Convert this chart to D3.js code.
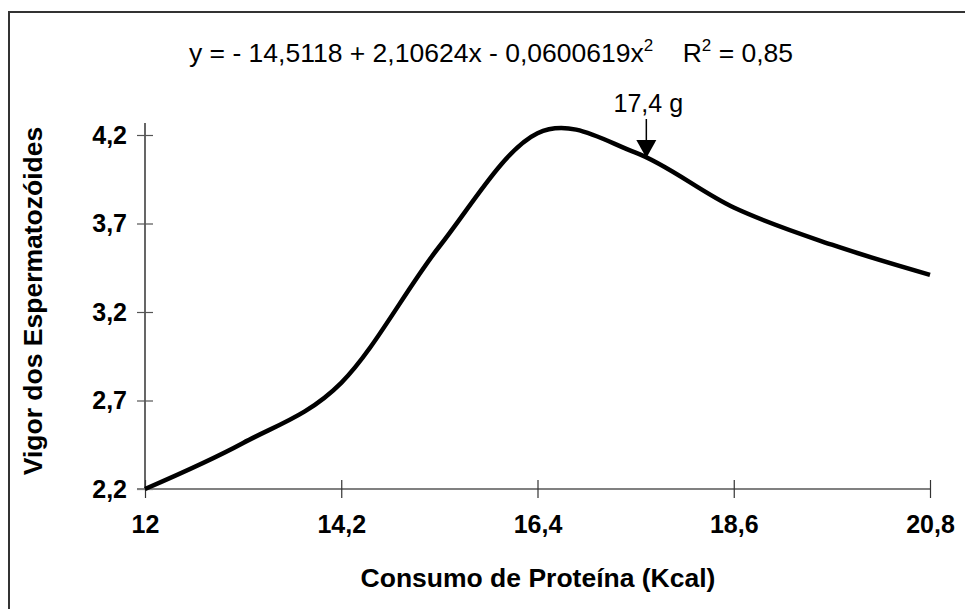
<!DOCTYPE html>
<html>
<head>
<meta charset="utf-8">
<script src="https://cdn.jsdelivr.net/npm/d3@7"></script>
<style>
  html, body { margin: 0; padding: 0; background: #fff; }
  svg { display: block; font-family: "Liberation Sans", Arial, sans-serif; }
</style>
</head>
<body>
<svg id="chart" width="965" height="609"></svg>
<script>
// Sperm vigour as a function of protein intake
const proteinKcal = [12, 13.1, 14.2, 15.3, 16.4, 17.5, 18.6, 19.7, 20.8];
const vigor       = [2.20, 2.46, 2.80, 3.57, 4.21, 4.10, 3.79, 3.58, 3.41];
const xTicks = [12, 14.2, 16.4, 18.6, 20.8];
const yTicks = [2.2, 2.7, 3.2, 3.7, 4.2];
const arrowX = 17.62;            // position of the "17,4 g" marker on the axis
const arrowLabel = "17,4 g";

const svg = d3.select("#chart");
const W = 965, H = 609;
const m = { left: 145, right: 35, top: 135, bottom: 120 };
const FONT = "Liberation Sans, Arial, sans-serif";

const x = d3.scaleLinear().domain([12, 20.8]).range([m.left, W - m.right]);
const y = d3.scaleLinear().domain([2.2, 4.2]).range([H - m.bottom, m.top]);

const fmt = d => String(d).replace(".", ",");

// outer frame (top and left edges)
svg.append("path")
  .attr("d", `M9,${H} L9,12 L${W},12`)
  .attr("fill", "none").attr("stroke", "#333").attr("stroke-width", 2);

// y axis
const yAxis = svg.append("g").attr("transform", `translate(${m.left},0)`)
  .call(d3.axisLeft(y).tickValues(yTicks).tickFormat(fmt).tickSize(0).tickPadding(18));
yAxis.select(".domain").attr("stroke", "#000").attr("stroke-width", 1.2)
  .attr("d", `M0,${y(2.2)}V${y(4.2) - 12}`);
yAxis.selectAll(".tick line").remove();
yAxis.selectAll(".tick").append("line")
  .attr("x1", -8).attr("x2", 8).attr("stroke", "#555").attr("stroke-width", 1.2);
yAxis.selectAll(".tick text").attr("font-size", 25).attr("font-weight", "bold")
  .attr("fill", "#000").attr("font-family", FONT);

// x axis
const xAxis = svg.append("g").attr("transform", `translate(0,${y(2.2)})`)
  .call(d3.axisBottom(x).tickValues(xTicks).tickFormat(fmt).tickSize(0).tickPadding(26));
xAxis.select(".domain").attr("stroke", "#808080").attr("stroke-width", 1.8)
  .attr("d", `M${m.left - 8},0H${W - m.right}`);
xAxis.selectAll(".tick line").remove();
xAxis.selectAll(".tick").append("line")
  .attr("y1", -9).attr("y2", 9).attr("stroke", "#333").attr("stroke-width", 1.2);
xAxis.selectAll(".tick text").attr("font-size", 25).attr("font-weight", "bold")
  .attr("fill", "#000").attr("font-family", FONT);

// smoothed response curve
const line = d3.line()
  .x((d, i) => x(proteinKcal[i]))
  .y(d => y(d))
  .curve(d3.curveCardinal.tension(0));
svg.append("path").datum(vigor)
  .attr("d", line)
  .attr("fill", "none").attr("stroke", "#000").attr("stroke-width", 4.5)
  .attr("stroke-linejoin", "round");

// marker arrow
const ax = x(arrowX);
svg.append("line").attr("x1", ax).attr("x2", ax).attr("y1", 119).attr("y2", 142)
  .attr("stroke", "#000").attr("stroke-width", 1.5);
svg.append("path")
  .attr("d", `M${ax - 10},140 L${ax + 10},140 L${ax},158 Z`).attr("fill", "#000");
svg.append("text").attr("x", ax + 2).attr("y", 112).attr("text-anchor", "middle")
  .attr("font-size", 25).text(arrowLabel);

// regression equation
const eq = svg.append("text").attr("x", 491).attr("y", 62).attr("text-anchor", "middle")
  .attr("font-size", 26.5);
eq.append("tspan").text("y = - 14,5118 + 2,10624x - 0,0600619x");
eq.append("tspan").attr("dy", -11).attr("font-size", 17).text("2");
eq.append("tspan").attr("dy", 11).text("\u00a0\u00a0\u00a0 R");
eq.append("tspan").attr("dy", -11).attr("font-size", 17).text("2");
eq.append("tspan").attr("dy", 11).text(" = 0,85");

// axis titles
svg.append("text").attr("x", 538).attr("y", 587).attr("text-anchor", "middle")
  .attr("font-size", 26.5).attr("font-weight", "bold").text("Consumo de Proteína (Kcal)");
svg.append("text").attr("transform", `translate(42,301) rotate(-90)`)
  .attr("text-anchor", "middle").attr("font-size", 26.5).attr("font-weight", "bold")
  .text("Vigor dos Espermatozóides");
</script>
</body>
</html>
